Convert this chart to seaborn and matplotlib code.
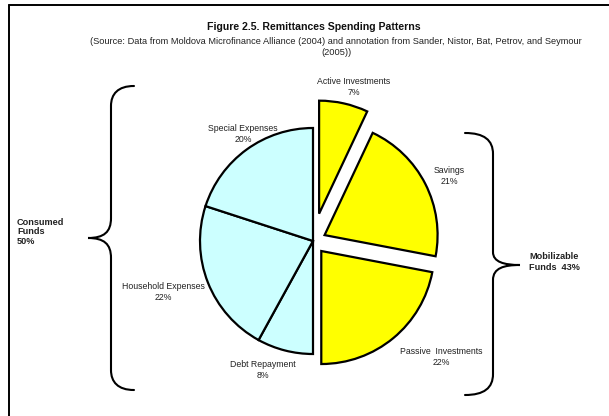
import numpy as np
import matplotlib
matplotlib.use("Agg")
import matplotlib.pyplot as plt
from matplotlib.path import Path
from matplotlib.patches import PathPatch
import seaborn as sns

# ── Data ────────────────────────────────────────────────────────────────────
categories = ["Active Investments", "Savings", "Passive  Investments",
              "Debt Repayment", "Household Expenses", "Special Expenses"]
shares = [7, 21, 22, 8, 22, 20]
groups = ["Mobilizable", "Mobilizable", "Mobilizable",
          "Consumed", "Consumed", "Consumed"]
group_labels = {"Consumed": "Consumed\nFunds\n50%",
                "Mobilizable": "Mobilizable\nFunds  43%"}

TITLE = "Figure 2.5. Remittances Spending Patterns"
SUBTITLE = ("(Source: Data from Moldova Microfinance Alliance (2004) and annotation "
            "from Sander, Nistor, Bat, Petrov, and Seymour\n(2005))")

# ── Style ───────────────────────────────────────────────────────────────────
W, H = 609, 416
CYAN = "#CCFFFF"
YELLOW = "#FFFF00"
colors = [YELLOW if g == "Mobilizable" else CYAN for g in groups]
explode = [28, 13, 13, 0, 0, 0]  # in pixels (pie explode is absolute)
# label anchor positions in pixel coords (x, y from top)
label_xy = [(354, 87), (449, 176), (441, 357), (263, 370), (163, 292), (243, 134)]

sns.set_theme(style="white")
plt.rcParams["font.family"] = ["Liberation Sans", "DejaVu Sans"]


def Y(y):
    return H - y


C, L = Path.CURVE4, Path.LINETO
BRACE_CODES = [Path.MOVETO, C, C, C, L, C, C, C, C, C, C, L, C, C, C]


def brace(ax, pts):
    verts = [(x, Y(y)) for x, y in pts]
    ax.add_patch(PathPatch(Path(verts, BRACE_CODES), fill=False, lw=1.5,
                           edgecolor="black", capstyle="round"))


fig = plt.figure(figsize=(W / 100, H / 100), dpi=100, facecolor="white")
ax = fig.add_axes([0, 0, 1, 1])

wedges, _ = ax.pie(shares, colors=colors, explode=explode, startangle=90,
                   counterclock=False, center=(313, Y(241)), radius=113,
                   wedgeprops=dict(edgecolor="black", linewidth=1.6))

for name, val, (lx, ly) in zip(categories, shares, label_xy):
    ax.text(lx, Y(ly), f"{name}\n{val}%", ha="center", va="center",
            fontsize=6.3, color="#222222", linespacing=1.15)

# left brace (consumed funds)
brace(ax, [(134, 86), (118, 86), (111, 94), (111, 106),
           (111, 218), (111, 232), (104, 238), (88, 238),
           (104, 238), (111, 244), (111, 258),
           (111, 370), (111, 382), (118, 390), (134, 390)])
# right brace (mobilizable funds)
brace(ax, [(465, 133), (484, 133), (493, 140), (493, 154),
           (493, 252), (493, 262), (504, 265), (520, 265),
           (504, 265), (493, 268), (493, 280),
           (493, 374), (493, 388), (484, 395), (465, 395)])

ax.text(17, Y(232), group_labels["Consumed"], ha="left", va="center",
        fontsize=6.6, fontweight="bold", color="#222222", linespacing=1.1)
ax.text(529, Y(262), group_labels["Mobilizable"], ha="left", va="center",
        fontsize=6.6, fontweight="bold", color="#222222", linespacing=1.15)

ax.text(314, Y(27), TITLE, ha="center", va="center", fontsize=7.6,
        fontweight="bold", color="#111111")
ax.text(336, Y(47), SUBTITLE, ha="center", va="center", fontsize=6.7,
        color="#222222", linespacing=1.2)

# frame lines (top and left)
ax.plot([9, W], [Y(4.5), Y(4.5)], color="black", lw=1.4)
ax.plot([9, 9], [Y(4.5), 0], color="black", lw=1.4)

ax.set_xlim(0, W)
ax.set_ylim(0, H)
ax.set_aspect("equal")
ax.axis("off")

fig.savefig("out.png", dpi=100, facecolor="white")
